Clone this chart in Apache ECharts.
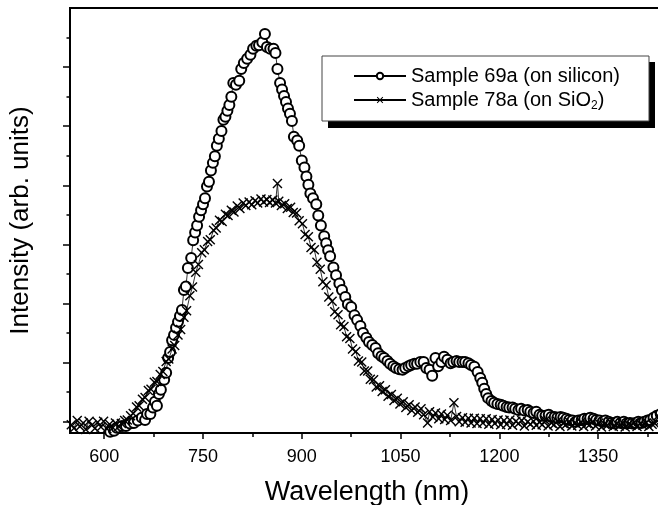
<!DOCTYPE html>
<html>
<head>
<meta charset="utf-8">
<script src="https://cdn.jsdelivr.net/npm/echarts@6/dist/echarts.min.js"></script>
<style>html,body{margin:0;padding:0;background:#fff;}#c{width:658px;height:505px;}</style>
</head>
<body>
<div id="c"></div>
<script>
// Sample 69a (on silicon): wavelength (nm), intensity (arb. units)
var s69Wavelength = [609,615,619,627,633,639,645,651,657,662,665,670,674,677,680,683,686,691,694,697,700,703,706,709,712,715,718,721,724,727,732,735,738,741,744,747,750,753,756,759,762,765,768,771,774,778,781,784,787,790,793,796,800,805,808,812,817,822,826,831,835,840,844,847,852,857,860,863,867,870,873,876,879,882,885,888,893,896,900,904,907,910,913,917,922,925,929,934,937,940,943,948,952,957,961,966,970,975,980,984,989,993,998,1002,1007,1012,1016,1021,1025,1030,1034,1039,1043,1048,1053,1057,1062,1066,1071,1075,1080,1085,1089,1094,1098,1103,1107,1112,1116,1121,1126,1130,1135,1139,1144,1148,1153,1157,1162,1167,1171,1174,1177,1180,1183,1188,1192,1197,1202,1206,1211,1215,1220,1224,1229,1233,1238,1243,1247,1252,1256,1261,1265,1270,1275,1279,1284,1288,1293,1297,1302,1306,1311,1316,1320,1325,1329,1334,1338,1343,1347,1352,1357,1361,1366,1370,1375,1379,1384,1389,1393,1398,1402,1407,1411,1416,1420,1425,1429,1434,1439,1445];
var s69Intensity = [-0.17,-0.15,-0.10,-0.07,-0.07,-0.03,-0.02,0.02,0.07,0.03,0.13,0.13,0.24,0.34,0.27,0.47,0.54,0.71,0.83,1.08,1.18,1.38,1.47,1.59,1.69,1.79,1.89,2.23,2.29,2.60,2.77,3.07,3.20,3.32,3.47,3.58,3.68,3.78,3.98,4.06,4.25,4.38,4.49,4.67,4.79,4.92,5.11,5.16,5.26,5.36,5.50,5.73,5.70,5.77,5.97,6.07,6.14,6.21,6.31,6.36,6.37,6.42,6.56,6.34,6.31,6.31,6.24,5.97,5.73,5.62,5.51,5.41,5.30,5.21,5.09,4.82,4.76,4.67,4.42,4.30,4.15,4.01,3.86,3.78,3.68,3.49,3.32,3.14,3.02,2.90,2.80,2.61,2.48,2.34,2.23,2.11,1.99,1.94,1.80,1.72,1.62,1.50,1.42,1.35,1.30,1.25,1.16,1.11,1.08,1.03,0.98,0.94,0.91,0.89,0.88,0.91,0.94,0.96,0.98,0.98,1.01,1.01,0.91,0.88,0.78,1.08,0.94,1.01,1.10,1.05,0.99,1.01,1.03,1.01,1.01,1.01,0.99,0.96,0.93,0.84,0.74,0.66,0.56,0.47,0.40,0.35,0.32,0.30,0.29,0.27,0.25,0.24,0.24,0.22,0.20,0.22,0.19,0.20,0.17,0.15,0.17,0.12,0.10,0.10,0.12,0.08,0.08,0.07,0.08,0.07,0.05,0.03,0.02,0.00,0.02,0.03,0.05,0.05,0.07,0.05,0.03,0.02,0.00,0.02,0.00,-0.02,-0.03,0.00,-0.02,0.00,-0.03,-0.02,-0.03,-0.02,0.00,-0.02,0.00,0.02,0.03,0.07,0.10,0.13];

// Sample 78a (on SiO2): wavelength (nm), intensity (arb. units)
var s78Wavelength = [550,554,559,563,568,572,577,581,586,590,595,599,604,608,613,617,622,626,631,635,640,644,649,653,658,662,667,671,676,680,685,689,694,698,703,707,712,716,721,725,730,734,739,743,748,752,757,761,766,770,775,779,784,788,793,797,802,806,811,815,820,824,829,833,838,842,847,851,856,860,863,865,869,874,878,883,887,892,896,901,905,910,914,919,923,928,932,937,941,946,950,955,959,964,968,973,977,982,986,991,995,1000,1004,1009,1013,1018,1022,1027,1031,1036,1040,1045,1049,1054,1058,1063,1067,1072,1076,1081,1085,1091,1094,1099,1103,1108,1112,1117,1121,1126,1131,1135,1139,1144,1148,1153,1157,1162,1166,1171,1175,1180,1184,1189,1193,1198,1202,1207,1211,1216,1220,1225,1229,1234,1238,1243,1247,1252,1256,1261,1265,1270,1274,1279,1283,1288,1292,1297,1301,1306,1310,1315,1319,1324,1328,1333,1337,1342,1346,1351,1355,1360,1364,1369,1373,1378,1382,1387,1391,1396,1400,1405,1409,1414,1418,1423,1427,1432,1436,1441,1445];
var s78Intensity = [-0.05,-0.11,0.02,-0.08,-0.02,-0.13,0.01,-0.06,-0.11,-0.01,-0.09,0.01,-0.12,-0.04,-0.10,-0.02,-0.08,-0.03,0.02,0.03,0.10,0.14,0.25,0.27,0.38,0.41,0.53,0.55,0.67,0.68,0.80,0.85,1.02,1.06,1.23,1.29,1.47,1.56,1.77,1.88,2.13,2.28,2.53,2.66,2.86,2.91,3.05,3.08,3.24,3.28,3.41,3.39,3.51,3.49,3.58,3.55,3.65,3.61,3.70,3.66,3.72,3.67,3.74,3.70,3.77,3.72,3.76,3.71,3.75,3.70,4.03,3.73,3.66,3.69,3.61,3.63,3.54,3.53,3.40,3.35,3.17,3.13,2.95,2.91,2.70,2.58,2.37,2.31,2.11,2.04,1.86,1.81,1.64,1.61,1.44,1.41,1.23,1.19,1.03,1.01,0.86,0.86,0.72,0.71,0.59,0.61,0.51,0.54,0.43,0.46,0.36,0.40,0.30,0.34,0.24,0.29,0.19,0.25,0.16,0.22,0.12,-0.02,0.17,0.08,0.15,0.05,0.13,0.04,0.11,0.02,0.32,0.09,0.00,0.07,-0.01,0.06,-0.02,0.06,-0.03,0.05,-0.02,0.05,-0.04,0.04,-0.03,0.03,-0.05,0.02,-0.04,0.03,-0.06,0.01,-0.03,0.02,-0.07,0.00,-0.04,0.01,-0.06,-0.01,-0.05,0.02,-0.07,-0.02,-0.05,0.01,-0.08,-0.03,-0.05,0.00,-0.07,-0.02,-0.06,-0.01,-0.08,-0.03,-0.05,0.00,-0.07,-0.02,-0.09,-0.04,-0.06,-0.01,-0.08,-0.03,-0.07,-0.02,-0.09,-0.04,-0.06,-0.01,-0.08,-0.03,-0.06,-0.02,-0.08,-0.04,-0.03,0.10,0.02];

var seriesNames = ['Sample 69a (on silicon)', 'Sample 78a (on SiO2)'];
var xMajorTicks = [600, 750, 900, 1050, 1200, 1350];
var xMinorTicks = [675, 825, 975, 1125, 1275, 1425];
var yMajorTicks = [0, 1, 2, 3, 4, 5, 6];
var yMinorTicks = [0.5, 1.5, 2.5, 3.5, 4.5, 5.5, 6.5];

function pairs(xs, ys) { return xs.map(function (x, i) { return [x, ys[i]]; }); }

var FONT = 'Liberation Sans';
var crossPath = 'path://M0,1L1,0L5,4L9,0L10,1L6,5L10,9L9,10L5,6L1,10L0,9L4,5Z';

var chart = echarts.init(document.getElementById('c'), null, { renderer: 'canvas' });
chart.setOption({
  animation: false,
  backgroundColor: '#fff',
  grid: { left: 70, right: -6, top: 8, bottom: 72, outerBoundsMode: 'none', containLabel: false,
    show: true, borderColor: '#000', borderWidth: 2, backgroundColor: 'transparent' },
  graphic: [{
    type: 'rect', z: 1, silent: true,
    shape: { x: 328, y: 62, width: 327, height: 66 },
    style: { fill: '#000' }
  }],
  xAxis: [{
    type: 'value', min: 548, max: 1450, position: 'bottom',
    name: 'Wavelength (nm)', nameLocation: 'middle', nameGap: 46,
    nameTextStyle: { fontFamily: FONT, fontSize: 27, color: '#000' },
    axisLine: { show: true, onZero: false, lineStyle: { color: '#000', width: 2 } },
    axisTick: { show: true, inside: false, length: 6, customValues: xMajorTicks, lineStyle: { color: '#000', width: 1.5 } },
    axisLabel: { show: true, customValues: xMajorTicks, margin: 15, fontFamily: FONT, fontSize: 18, color: '#000',
      formatter: function (v) { return String(v); } },
    splitLine: { show: false }
  }, {
    type: 'value', min: 548, max: 1450, position: 'bottom',
    axisLine: { show: false, onZero: false },
    axisTick: { show: true, inside: false, length: 4, customValues: xMinorTicks, lineStyle: { color: '#000', width: 1.5 } },
    axisLabel: { show: false },
    splitLine: { show: false }
  }],
  yAxis: [{
    type: 'value', min: -0.19, max: 7, position: 'left',
    name: 'Intensity (arb. units)', nameLocation: 'middle', nameGap: 36,
    nameTextStyle: { fontFamily: FONT, fontSize: 26, color: '#000' },
    axisLine: { show: true, onZero: false, lineStyle: { color: '#000', width: 2 } },
    axisTick: { show: true, inside: false, length: 7, customValues: yMajorTicks, lineStyle: { color: '#000', width: 1.5 } },
    axisLabel: { show: false },
    splitLine: { show: false }
  }, {
    type: 'value', min: -0.19, max: 7, position: 'left',
    axisLine: { show: false, onZero: false },
    axisTick: { show: true, inside: false, length: 3.5, customValues: yMinorTicks, lineStyle: { color: '#000', width: 1.5 } },
    axisLabel: { show: false },
    splitLine: { show: false }
  }],
  legend: {
    orient: 'vertical', left: 322, top: 56, z: 5,
    padding: [10, 29, 9, 31], itemGap: 4, itemWidth: 52, itemHeight: 8,
    backgroundColor: '#fff', borderColor: '#444', borderWidth: 1, borderRadius: 0,
    textStyle: {
      fontFamily: FONT, fontSize: 20, color: '#000',
      rich: { sub: { fontFamily: FONT, fontSize: 12, verticalAlign: 'bottom', padding: [12, 0, 0, 0], color: '#000' } }
    },
    formatter: function (name) { return name.replace('SiO2', 'SiO{sub|2}'); },
    data: seriesNames
  },
  series: [{
    name: seriesNames[0], type: 'line', xAxisIndex: 0, yAxisIndex: 0,
    data: pairs(s69Wavelength, s69Intensity),
    symbol: 'emptyCircle', symbolSize: 10, showSymbol: true, showAllSymbol: true,
    lineStyle: { color: '#000', width: 0.8 },
    itemStyle: { color: '#000', borderColor: '#000', borderWidth: 1.3 },
    emphasis: { disabled: true }, z: 2
  }, {
    name: seriesNames[1], type: 'line', xAxisIndex: 0, yAxisIndex: 0,
    data: pairs(s78Wavelength, s78Intensity),
    symbol: crossPath, symbolSize: 10, showSymbol: true, showAllSymbol: true,
    lineStyle: { color: '#000', width: 0.8 },
    itemStyle: { color: '#000', borderWidth: 0 },
    emphasis: { disabled: true }, z: 3
  }]
});
</script>
</body>
</html>
